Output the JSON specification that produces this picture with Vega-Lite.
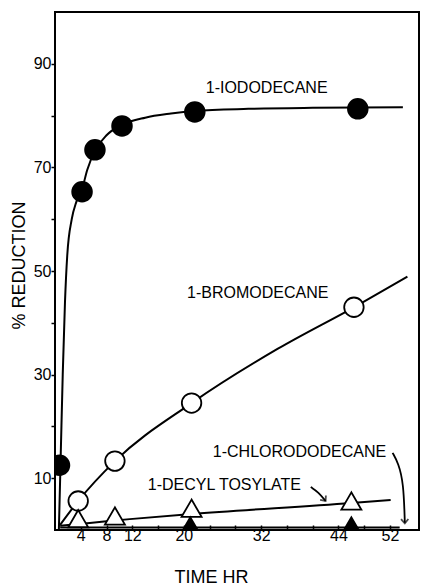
{
  "$schema": "https://vega.github.io/schema/vega-lite/v6.json",
  "width": 364,
  "height": 518,
  "autosize": {"type": "none"},
  "padding": {"left": 55, "top": 12, "right": 3, "bottom": 56},
  "background": "white",
  "config": {
    "view": {"stroke": "black", "strokeWidth": 2},
    "font": "Liberation Sans",
    "axis": {
      "labelFont": "Liberation Sans",
      "titleFont": "Liberation Sans",
      "labelColor": "black",
      "titleColor": "black",
      "tickColor": "black",
      "tickWidth": 1.5,
      "domain": false,
      "grid": false,
      "labelFontSize": 16,
      "titleFontSize": 18,
      "titleFontWeight": "normal",
      "labelOverlap": false,
      "labelFlush": false
    }
  },
  "datasets": {
    "curves": [
      {"series": "iodo", "x": 0.6, "y": 0},
      {"series": "iodo", "x": 0.9, "y": 15},
      {"series": "iodo", "x": 1.2, "y": 30},
      {"series": "iodo", "x": 1.55, "y": 44},
      {"series": "iodo", "x": 1.9, "y": 53},
      {"series": "iodo", "x": 2.6, "y": 60},
      {"series": "iodo", "x": 3.3, "y": 63.3},
      {"series": "iodo", "x": 4.2, "y": 65.8},
      {"series": "iodo", "x": 5, "y": 69.5},
      {"series": "iodo", "x": 6.2, "y": 73.2},
      {"series": "iodo", "x": 8, "y": 76.2},
      {"series": "iodo", "x": 10.4, "y": 78.2},
      {"series": "iodo", "x": 14, "y": 79.6},
      {"series": "iodo", "x": 18, "y": 80.4},
      {"series": "iodo", "x": 21.7, "y": 80.9},
      {"series": "iodo", "x": 30, "y": 81.3},
      {"series": "iodo", "x": 40, "y": 81.5},
      {"series": "iodo", "x": 54, "y": 81.6},
      {"series": "bromo", "x": 0.8, "y": 1},
      {"series": "bromo", "x": 3.6, "y": 5.6},
      {"series": "bromo", "x": 9.3, "y": 13.3},
      {"series": "bromo", "x": 21.2, "y": 24.5},
      {"series": "bromo", "x": 34.6, "y": 35},
      {"series": "bromo", "x": 46.4, "y": 43},
      {"series": "bromo", "x": 54.7, "y": 48.9},
      {"series": "tosyl", "x": 0.8, "y": 0.8},
      {"series": "tosyl", "x": 5.4, "y": 1.35},
      {"series": "tosyl", "x": 11.6, "y": 2.1},
      {"series": "tosyl", "x": 21.2, "y": 3.1},
      {"series": "tosyl", "x": 46, "y": 5.2},
      {"series": "tosyl", "x": 52.1, "y": 5.8},
      {"series": "chloro", "x": 0.8, "y": 0.5},
      {"series": "chloro", "x": 53.5, "y": 0.5}
    ],
    "points": [
      {"series": "iodo", "x": 0.7, "y": 12.5},
      {"series": "iodo", "x": 4.2, "y": 65.3},
      {"series": "iodo", "x": 6.2, "y": 73.4},
      {"series": "iodo", "x": 10.4, "y": 78},
      {"series": "iodo", "x": 21.7, "y": 80.7},
      {"series": "iodo", "x": 47, "y": 81.3},
      {"series": "bromo", "x": 3.6, "y": 5.6},
      {"series": "bromo", "x": 9.3, "y": 13.3},
      {"series": "bromo", "x": 21.2, "y": 24.5},
      {"series": "bromo", "x": 46.4, "y": 43},
      {"series": "tosyl", "x": 3.6, "y": 2.2},
      {"series": "tosyl", "x": 9.3, "y": 2.7},
      {"series": "tosyl", "x": 21.2, "y": 4.2},
      {"series": "tosyl", "x": 46, "y": 5.6},
      {"series": "chloro", "x": 21, "y": 0.8},
      {"series": "chloro", "x": 46, "y": 0.8}
    ],
    "labels": [
      {"text": "1-IODODECANE", "x": 23.4, "y": 85.3},
      {"text": "1-BROMODECANE", "x": 20.5, "y": 45.8},
      {"text": "1-DECYL TOSYLATE", "x": 14.4, "y": 8.7},
      {"text": "1-CHLORODODECANE", "x": 24.5, "y": 15.1}
    ],
    "arrows": [
      {"arrow": "tosyl", "ord": 1, "x": 39.7, "y": 8.3},
      {"arrow": "tosyl", "ord": 2, "x": 40.9, "y": 7.3},
      {"arrow": "tosyl", "ord": 3, "x": 42.0, "y": 5.6},
      {"arrow": "chloro", "ord": 1, "x": 52.4, "y": 14.9},
      {"arrow": "chloro", "ord": 2, "x": 53.3, "y": 12.9},
      {"arrow": "chloro", "ord": 3, "x": 54.1, "y": 9.1},
      {"arrow": "chloro", "ord": 4, "x": 54.3, "y": 1.4}
    ],
    "heads": [
      {"arrow": "tosyl", "x": 42.0, "y": 5.6, "angle": 142},
      {"arrow": "chloro", "x": 54.3, "y": 1.3, "angle": 178}
    ]
  },
  "encoding": {
    "x": {
      "field": "x",
      "type": "quantitative",
      "scale": {"domain": [0, 56.5], "nice": false, "zero": false},
      "axis": {
        "title": "TIME HR",
        "values": [4, 8, 12, 16, 20, 24, 28, 32, 36, 40, 44, 48, 52],
        "labelExpr": "indexof([4, 8, 12, 20, 32, 44, 52], datum.value) >= 0 ? datum.label : ''",
        "tickSize": -5,
        "labelPadding": 2,
        "titleX": 156,
        "titleY": 47,
        "titleBaseline": "middle",
        "titleAlign": "center"
      }
    },
    "y": {
      "field": "y",
      "type": "quantitative",
      "scale": {"domain": [0, 100], "nice": false},
      "axis": {
        "title": "% REDUCTION",
        "values": [10, 20, 30, 40, 50, 60, 70, 80, 90],
        "labelExpr": "datum.value % 20 == 10 ? datum.label : ''",
        "tickSize": 4,
        "labelPadding": 0,
        "titleX": -36,
        "titleY": 253,
        "titleAngle": -90,
        "titleBaseline": "middle",
        "titleAlign": "center"
      }
    }
  },
  "layer": [
    {
      "data": {"name": "curves"},
      "mark": {"type": "line", "interpolate": "monotone", "color": "black", "strokeWidth": 2},
      "encoding": {"detail": {"field": "series"}}
    },
    {
      "data": {"name": "arrows"},
      "mark": {"type": "line", "interpolate": "basis", "color": "black", "strokeWidth": 1.8},
      "encoding": {"detail": {"field": "arrow"}, "order": {"field": "ord"}}
    },
    {
      "data": {"name": "heads"},
      "mark": {"type": "point", "shape": "M-0.7,0.8L0,0L0.7,0.8", "filled": false, "stroke": "black", "strokeWidth": 1.8, "size": 110},
      "encoding": {"angle": {"field": "angle", "type": "quantitative", "scale": null}}
    },
    {
      "data": {"name": "points"},
      "transform": [{"filter": "datum.series == 'iodo'"}],
      "mark": {"type": "point", "shape": "circle", "filled": true, "fill": "black", "stroke": "black", "size": 380, "opacity": 1, "clip": true}
    },
    {
      "data": {"name": "points"},
      "transform": [{"filter": "datum.series == 'bromo'"}],
      "mark": {"type": "point", "shape": "circle", "filled": true, "fill": "white", "stroke": "black", "strokeWidth": 1.8, "size": 380, "opacity": 1}
    },
    {
      "data": {"name": "points"},
      "transform": [{"filter": "datum.series == 'tosyl'"}],
      "mark": {"type": "point", "shape": "triangle-up", "filled": true, "fill": "white", "stroke": "black", "strokeWidth": 1.8, "size": 400, "opacity": 1}
    },
    {
      "data": {"name": "points"},
      "transform": [{"filter": "datum.series == 'chloro'"}],
      "mark": {"type": "point", "shape": "triangle-up", "filled": true, "fill": "black", "stroke": "black", "size": 380, "opacity": 1, "clip": true}
    },
    {
      "data": {"name": "labels"},
      "mark": {"type": "text", "align": "left", "baseline": "middle", "font": "Liberation Sans", "fontSize": 16, "color": "black"},
      "encoding": {"text": {"field": "text"}}
    }
  ]
}
